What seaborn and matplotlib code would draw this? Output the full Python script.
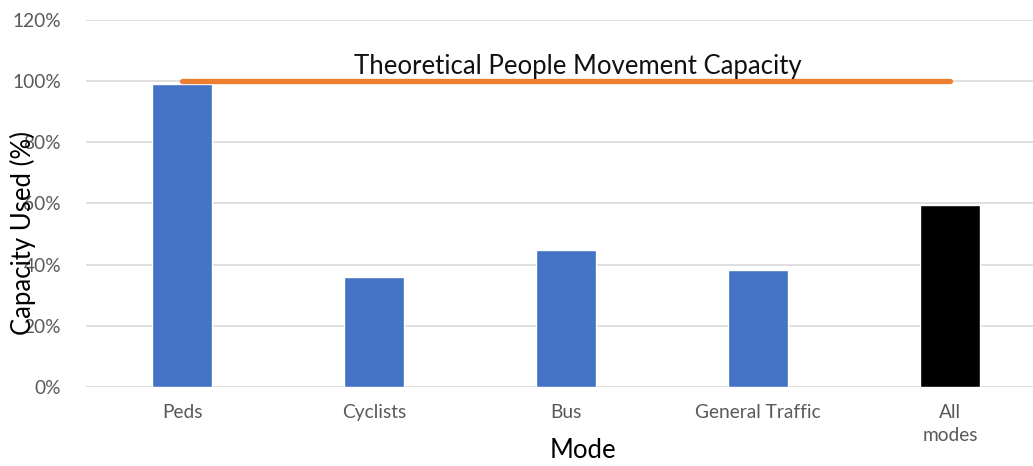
import matplotlib
matplotlib.use('Agg')
import matplotlib.pyplot as plt
import seaborn as sns
import numpy as np
from matplotlib.ticker import PercentFormatter

# data
modes = ['Peds', 'Cyclists', 'Bus', 'General Traffic', 'All\nmodes']
capacity_used = [98.8, 35.8, 44.9, 38.2, 59.6]
bar_colors = ['#4472C4', '#4472C4', '#4472C4', '#4472C4', '#000000']
theoretical_capacity = 100
yticks = [0, 20, 40, 60, 80, 100, 120]

sns.set_theme(style='white')
plt.rcParams['font.family'] = ['Lato', 'DejaVu Sans']

fig = plt.figure(figsize=(10.33, 4.66), dpi=100)
ax = fig.add_axes([0.0833, 0.1695, 0.9293, 0.7885])

sns.barplot(x=modes, y=capacity_used, hue=modes, palette=bar_colors,
            legend=False, width=0.31, saturation=1, ax=ax)

# theoretical capacity line from first to last category
ax.plot([0, len(modes) - 1], [theoretical_capacity] * 2, color='#ED7D31',
        lw=3.8, solid_capstyle='round', zorder=4)
ax.text(2.06, theoretical_capacity + 0.6, 'Theoretical People Movement Capacity',
        ha='center', va='bottom', fontsize=18.5, color='#111111', zorder=5)

ax.set_ylim(0, 120)
ax.set_xlim(-0.5, len(modes) - 0.5)
ax.set_yticks(yticks)
ax.yaxis.set_major_formatter(PercentFormatter(decimals=0))
ax.yaxis.grid(True, color='#d9d9d9', lw=1.2)
ax.set_axisbelow(True)
for s in ax.spines.values():
    s.set_visible(False)
ax.tick_params(axis='both', length=0, labelsize=13.8, colors='#595959')
ax.tick_params(axis='x', pad=12)
ax.tick_params(axis='y', pad=18)
for lbl in ax.get_xticklabels():
    lbl.set_linespacing(1.45)

ax.set_ylabel('Capacity Used (%)', fontsize=18.5, color='black')
ax.yaxis.set_label_coords(-0.052, 0.42)
ax.set_xlabel('Mode', fontsize=18.5, color='black')
ax.xaxis.set_label_coords(0.5175, -0.14)

fig.savefig('out.png', dpi=100)
